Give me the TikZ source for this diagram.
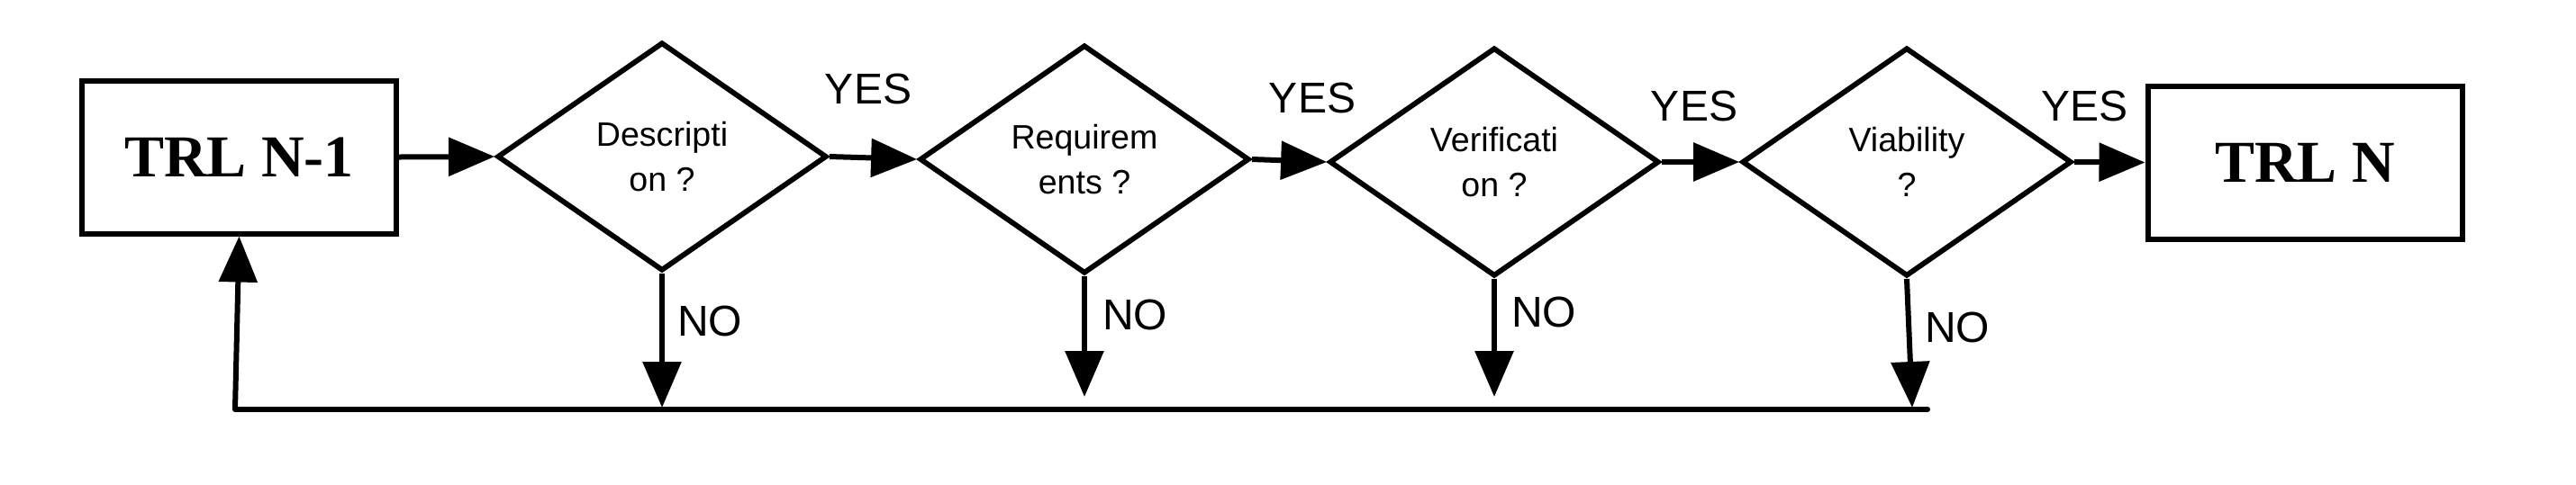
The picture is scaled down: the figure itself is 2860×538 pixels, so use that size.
\documentclass[tikz,border=0pt]{standalone}
\usepackage{fontspec}
\setmainfont{Liberation Sans}
\newfontfamily\trlfont{Liberation Serif}
\usetikzlibrary{shapes.geometric,arrows.meta}
\begin{document}
\begin{tikzpicture}[x=0.25pt,y=-0.25pt,
  line width=1.5pt,
  trlbox/.style={draw,rectangle,minimum width=87.25pt,minimum height=42.5pt,inner sep=0pt,
    font=\trlfont\bfseries\fontsize{16.5}{18}\selectfont},
  decision/.style={draw,diamond,minimum width=91.5pt,minimum height=63.5pt,inner sep=0pt,
    align=center,font=\fontsize{9.4}{12.5}\selectfont,line width=1.45pt},
  flow/.style={-{Triangle[length=12.75pt,width=10.5pt]}},
  lbl/.style={anchor=base,inner sep=0pt,font=\fontsize{12}{14}\selectfont}]
\useasboundingbox (0,0) rectangle (2860,538);
\node[trlbox] (b1) at (265.5,174.5) {TRL N-1};
\node[decision] (d1) at (735,174) {Descripti\\on ?};
\node[decision] (d2) at (1204,177) {Requirem\\ents ?};
\node[decision] (d3) at (1659,180) {Verificati\\on ?};
\node[decision] (d4) at (2117,180) {Viability\\?};
\node[trlbox] (b2) at (2559,180.5) {TRL N};
\draw[flow] (b1.east) -- (d1.west);
\draw[flow] (d1.east) -- (d2.west);
\draw[flow] (d2.east) -- (d3.west);
\draw[flow] (d3.east) -- (d4.west);
\draw[flow] (d4.east) -- (b2.west);
\coordinate (n1) at (735,453);
\coordinate (n2) at (1204,441);
\coordinate (n3) at (1659,441);
\coordinate (n4) at (2123,453);
\coordinate (bl) at (261,455);
\coordinate (br) at (2140,455);
\draw[flow] (d1.south) -- (n1);
\draw[flow] (d2.south) -- (n2);
\draw[flow] (d3.south) -- (n3);
\draw[flow] (d4.south) -- (n4);
\draw[line cap=round] (bl) -- (br);
\draw[flow] (bl) -- (b1.south);
\node[lbl] (y1) at (964,115) {YES};
\node[lbl] (y2) at (1457,125) {YES};
\node[lbl] (y3) at (1881,134) {YES};
\node[lbl] (y4) at (2314,134) {YES};
\node[lbl] (o1) at (788,373) {NO};
\node[lbl] (o2) at (1260,366) {NO};
\node[lbl] (o3) at (1714,363) {NO};
\node[lbl] (o4) at (2173,380) {NO};
\end{tikzpicture}
\end{document}
